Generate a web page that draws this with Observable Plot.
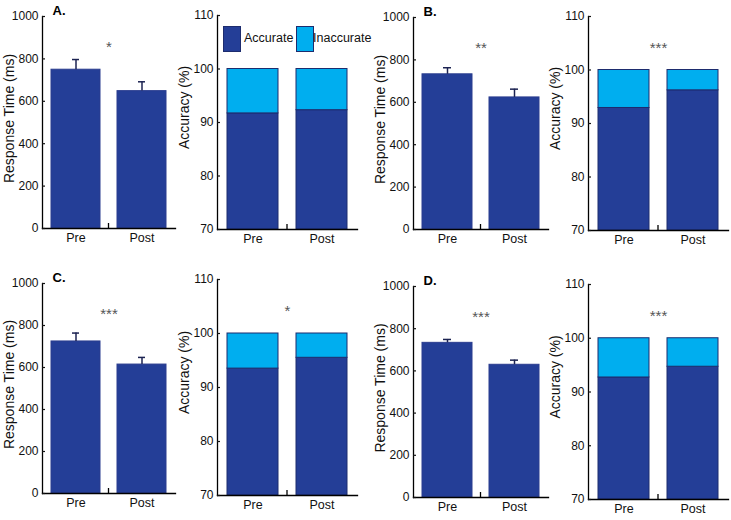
<!DOCTYPE html>
<html>
<head>
<meta charset="utf-8">
<script src="https://cdn.jsdelivr.net/npm/d3@7"></script>
<script src="https://cdn.jsdelivr.net/npm/@observablehq/plot@0.6"></script>
<style>
  html, body { margin: 0; padding: 0; background: #fff; }
  #chart { position: relative; width: 731px; height: 520px; overflow: hidden; font-family: "Liberation Sans", Arial, sans-serif; }
  #chart > svg { position: absolute; overflow: visible; }
  .box { position: absolute; width: 16px; height: 24px; border: 1px solid #1d2c6e; }
  .lt { position: absolute; font-size: 12.5px; line-height: 13px; color: #111; white-space: nowrap; }
</style>
</head>
<body>
<div id="chart"></div>
<script>
// ---- data ----
const conditions = ["Pre", "Post"];
const panelLetters = ["A.", "B.", "C.", "D."];
const rtMean = [[749, 648], [732, 623], [724, 614], [733, 629]];
const rtErr = [[48, 44], [31, 39], [40, 34], [16, 22]];
const accurate = [[91.7, 92.3], [92.9, 96.2], [93.5, 95.5], [92.7, 94.7]];
const rtStars = ["*", "**", "***", "***"];
const accStars = ["", "***", "*", "***"];
const rtTicks = [0, 200, 400, 600, 800, 1000];
const accTicks = [70, 80, 90, 100, 110];
const seriesNames = ["Accurate", "Inaccurate"];
const seriesColors = ["#243e97", "#00aeef"];

// ---- layout (frame placement of each panel) ----
const rtLayout = [
  {left: 0, top: 0, mt: 16, fw: 133, fh: 212},
  {left: 371, top: 0, mt: 17, fw: 135, fh: 212},
  {left: 0, top: 260, mt: 23, fw: 133, fh: 210},
  {left: 371, top: 260, mt: 26, fw: 135, fh: 211}
];
const accLayout = [
  {left: 175, top: 0, mt: 15, fw: 140, fh: 214},
  {left: 546, top: 0, mt: 16, fw: 140, fh: 214},
  {left: 175, top: 260, mt: 19, fw: 140, fh: 216},
  {left: 546, top: 260, mt: 24, fw: 140, fh: 215}
];
const ML = 42, MR = 3, MB = 22;
const FONT = "Liberation Sans, Arial, sans-serif";
const errColor = "#1c2352";

function midTick(index, scales, values, dims) {
  const x = (dims.marginLeft + dims.width - dims.marginRight) / 2;
  const yb = dims.height - dims.marginBottom;
  const line = d3.create("svg:line")
    .attr("x1", x).attr("x2", x).attr("y1", yb).attr("y2", yb - 5)
    .attr("stroke", "#000").attr("stroke-width", 1.3);
  return line.node();
}

function common(pos) {
  return {
    width: ML + pos.fw + MR,
    height: pos.mt + pos.fh + MB,
    marginLeft: ML, marginRight: MR, marginTop: pos.mt, marginBottom: MB,
    style: {background: "transparent", overflow: "visible", fontFamily: FONT, fontSize: "12px", color: "#111"},
    x: {domain: conditions, paddingInner: 0.26, paddingOuter: 0.135, label: null}
  };
}

function axes(ticks, label, labelDy) {
  return [
    Plot.frame({anchor: "left", stroke: "#000", strokeWidth: 1.3}),
    Plot.frame({anchor: "bottom", stroke: "#000", strokeWidth: 1.3}),
    midTick,
    Plot.axisX({tickSize: 0, tickPadding: 5, fontSize: 12.5, label: null}),
    Plot.axisY({ticks, tickSize: 3, dx: 3, tickFormat: () => "", label: null, strokeWidth: 1.2}),
    Plot.axisY({ticks, tickSize: 0, tickPadding: 4, fontSize: 12, label: null, tickFormat: d3.format("d")}),
    Plot.text([label], {frameAnchor: "left", text: d => d, rotate: -90, dx: -33, dy: labelDy, fontSize: 14, fill: "#111", textAnchor: "middle", lineAnchor: "middle"})
  ];
}

const chart = document.getElementById("chart");

function place(svg, pos) {
  svg.style.left = pos.left + "px";
  svg.style.top = pos.top + "px";
  chart.appendChild(svg);
}

// Response time panels
rtLayout.forEach((pos, k) => {
  const data = conditions.map((c, i) => ({cond: c, mean: rtMean[k][i], err: rtErr[k][i]}));
  const svg = Plot.plot({
    ...common(pos),
    y: {domain: [rtTicks[0], rtTicks[rtTicks.length - 1]]},
    marks: [
      Plot.barY(data, {x: "cond", y: "mean", fill: seriesColors[0], stroke: "#2b3d8f", strokeWidth: 1}),
      Plot.ruleX(data, {x: "cond", y1: "mean", y2: d => d.mean + d.err, stroke: errColor, strokeWidth: 1.5}),
      Plot.tickY(data, {x: "cond", y: d => d.mean + d.err, stroke: errColor, strokeWidth: 1.5, insetLeft: 21, insetRight: 21}),
      Plot.text([rtStars[k]], {frameAnchor: "top", text: d => d, dy: 25, lineAnchor: "top", fontSize: 15, fill: "#555"}),
      Plot.text([panelLetters[k]], {frameAnchor: "top-left", text: d => d, dx: 10, dy: -2, lineAnchor: "bottom", textAnchor: "start", fontSize: 13, fontWeight: "bold", fill: "#000"}),
      ...axes(rtTicks, "Response Time (ms)", -4)
    ]
  });
  place(svg, pos);
});

// Accuracy panels
accLayout.forEach((pos, k) => {
  const base = accTicks[0];
  const top = 100;
  const data = [];
  conditions.forEach((c, i) => {
    data.push({cond: c, series: seriesNames[0], y1: base, y2: accurate[k][i]});
    data.push({cond: c, series: seriesNames[1], y1: accurate[k][i], y2: top});
  });
  const svg = Plot.plot({
    ...common(pos),
    y: {domain: [accTicks[0], accTicks[accTicks.length - 1]]},
    color: {domain: seriesNames, range: seriesColors},
    marks: [
      Plot.barY(data, {x: "cond", y1: "y1", y2: "y2", fill: "series", stroke: "#1d2c6e", strokeWidth: 1}),
      Plot.text([accStars[k]], {frameAnchor: "top", text: d => d, dy: 26, lineAnchor: "top", fontSize: 15, fill: "#555"}),
      ...axes(accTicks, "Accuracy (%)", -15)
    ]
  });
  place(svg, pos);
});

// Legend inside panel A accuracy
const legendItems = [
  {box: 223, text: 244},
  {box: 296, text: 313}
];
seriesNames.forEach((name, i) => {
  const b = document.createElement("div");
  b.className = "box";
  b.style.left = legendItems[i].box + "px";
  b.style.top = "26px";
  b.style.background = seriesColors[i];
  chart.appendChild(b);
  const t = document.createElement("div");
  t.className = "lt";
  t.style.left = legendItems[i].text + "px";
  t.style.top = "32px";
  t.textContent = name;
  chart.appendChild(t);
});
</script>
</body>
</html>
